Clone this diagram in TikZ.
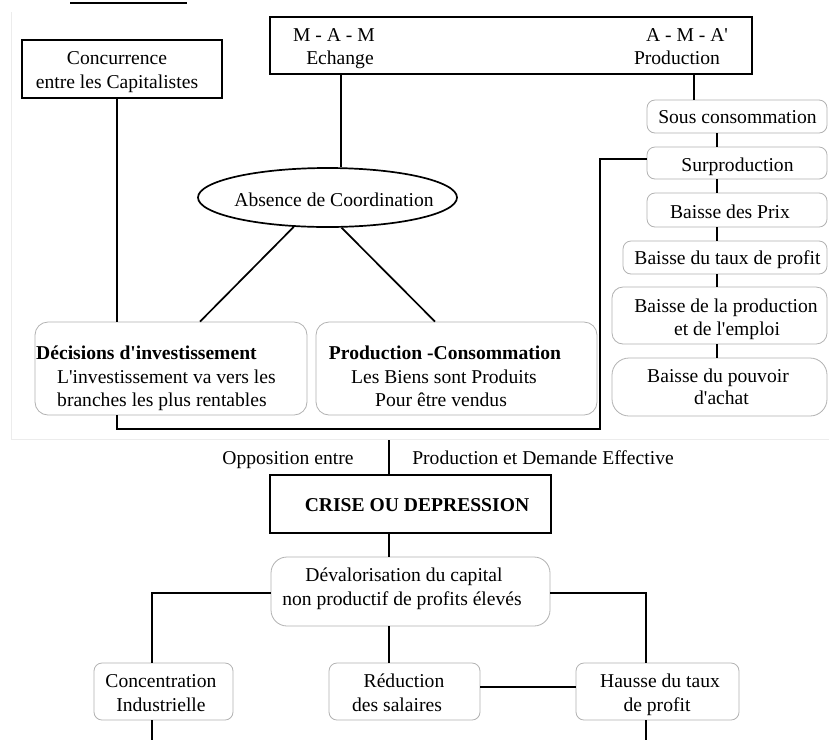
\documentclass[tikz,border=0pt]{standalone}
\usepackage{fontspec}
\setmainfont{Liberation Serif}
\usetikzlibrary{shapes.geometric}
\newcommand{\apo}{\textquotesingle}
\begin{document}
\begin{tikzpicture}[x=1pt,y=-1pt,
  txt/.style={anchor=base,inner sep=0pt,font=\fontsize{19.6}{24}\selectfont},
  txtb/.style={anchor=base,inner sep=0pt,font=\fontsize{19.6}{24}\selectfont\bfseries},
  sqbox/.style={draw=black,line width=1.9pt,rectangle,inner sep=0pt},
  rbox/.style={draw=gray!60,line width=0.8pt,rounded corners=8pt,rectangle,inner sep=0pt},
  conn/.style={draw=black,line width=1.7pt},
  faint/.style={draw=gray!15,line width=1pt}]
\useasboundingbox (0,0) rectangle (829,740);
\fill[white] (0,0) rectangle (829,740);
% title underline (title itself is cut off)
\draw[line width=2.2pt] (70,3) -- (187,3);
% faint frame of the upper part
\draw[faint] (11,12) -- (11,439) -- (829,439);

% ---- boxes
\node[sqbox,minimum width=482pt,minimum height=57pt] (top) at (511,45.5) {};
\node[sqbox,minimum width=200pt,minimum height=58pt] (conc) at (122,69) {};
\node[ellipse,draw=black,line width=1.7pt,minimum width=259pt,minimum height=59pt,inner sep=0pt] (ell) at (327.5,197.5) {};
\node[rbox,rounded corners=13pt,minimum width=272pt,minimum height=93pt] (dec) at (171,368.5) {};
\node[rbox,rounded corners=13pt,minimum width=281pt,minimum height=93pt] (prod) at (456.5,368.5) {};
\node[rbox,minimum width=180pt,minimum height=33pt] (sous) at (737,116.5) {};
\node[rbox,minimum width=180pt,minimum height=32pt] (surp) at (737,163) {};
\node[rbox,minimum width=180pt,minimum height=34pt] (prix) at (737,210) {};
\node[rbox,minimum width=204pt,minimum height=33pt] (taux) at (725,257.5) {};
\node[rbox,rounded corners=11pt,minimum width=215pt,minimum height=57pt] (bprod) at (719.5,315.5) {};
\node[rbox,rounded corners=17pt,minimum width=215pt,minimum height=58pt] (pouv) at (719.5,387) {};
\node[sqbox,minimum width=281pt,minimum height=58pt] (crise) at (410.5,504) {};
\node[rbox,rounded corners=16pt,minimum width=279pt,minimum height=69pt] (deval) at (410.5,591.5) {};
\node[rbox,minimum width=139pt,minimum height=57pt] (concen) at (163.5,691.5) {};
\node[rbox,minimum width=151pt,minimum height=57pt] (reduc) at (404.5,691.5) {};
\node[rbox,minimum width=163pt,minimum height=57pt] (hausse) at (657.5,691.5) {};

% ---- texts
\node[txt] (t1) at (334,41.5) {M - A - M};
\node[txt] (t2) at (340,64.5) {Echange};
\node[txt] (t3) at (687,41.5) {A - M - A\apo};
\node[txt] (t4) at (677,64.5) {Production};
\node[txt] (t5) at (117,64.5) {Concurrence};
\node[txt] (t6) at (117,88.5) {entre les Capitalistes};
\node[txt] (t7) at (334,206.5) {Absence de Coordination};
\node[txt] (t8) at (737.5,123.5) {Sous consommation};
\node[txt] (t9) at (737.5,171.5) {Surproduction};
\node[txt] (t10) at (730,218.5) {Baisse des Prix};
\node[txt] (t11) at (727.5,264.5) {Baisse du taux de profit};
\node[txt] (t12) at (726,312.5) {Baisse de la production};
\node[txt] (t13) at (727,335.5) {et de l\apo emploi};
\node[txt] (t14) at (718,382.5) {Baisse du pouvoir};
\node[txt] (t15) at (721.5,404.5) {d\apo achat};
\node[txtb,anchor=base west] (t16) at (36,359.5) {Décisions d\apo investissement};
\node[txt,anchor=base west] (t17) at (57,383.5) {L\apo investissement va vers les};
\node[txt,anchor=base west] (t18) at (57,406.5) {branches les plus rentables};
\node[txtb] (t19) at (445,359.5) {Production -Consommation};
\node[txt] (t20) at (444,383.5) {Les Biens sont Produits};
\node[txt] (t21) at (441,406.5) {Pour être vendus};
\node[txt] (t22) at (288,464.5) {Opposition entre};
\node[txt] (t23) at (543,464.5) {Production et Demande Effective};
\node[txtb] (t24) at (417,511.5) {CRISE OU DEPRESSION};
\node[txt] (t25) at (404,581.5) {Dévalorisation du capital};
\node[txt] (t26) at (402,605.5) {non productif de profits élevés};
\node[txt] (t27) at (161,687.5) {Concentration};
\node[txt] (t28) at (161,711.5) {Industrielle};
\node[txt] (t29) at (404,687.5) {Réduction};
\node[txt] (t30) at (397,711.5) {des salaires};
\node[txt] (t31) at (660,687.5) {Hausse du taux};
\node[txt] (t32) at (657,711.5) {de profit};

% ---- helper coordinates
\coordinate (xl) at (117,0);
\coordinate (xd) at (200,0);
\coordinate (xp) at (435,0);
\coordinate (xr) at (694,0);
\coordinate (xc) at (717,0);
\coordinate (ys) at (0,159);
\coordinate (kr) at (600,429);
\coordinate (kl) at (117,429);
\coordinate (xm) at (389,0);
\coordinate (om) at (389,440);
\coordinate (yd) at (0,593);
\coordinate (xcl) at (152,0);
\coordinate (xcr) at (646,0);
\coordinate (yr) at (0,687);
\coordinate (bl) at (152,740);
\coordinate (br) at (646,740);

% ---- connectors
\draw[conn] (conc.south -| xl) -- (dec.north -| xl);
\draw[conn] (top.south -| ell.66) -- (ell.66);
\draw[conn] (ell.221) -- (dec.north -| xd);
\draw[conn] (ell.295) -- (prod.north -| xp);
\draw[conn] (top.south -| xr) -- (sous.north -| xr);
\draw[conn] (sous.south -| xc) -- (surp.north -| xc);
\draw[conn] (surp.south -| xc) -- (prix.north -| xc);
\draw[conn] (prix.south -| xc) -- (taux.north -| xc);
\draw[conn] (taux.south -| xc) -- (bprod.north -| xc);
\draw[conn] (bprod.south -| xc) -- (pouv.north -| xc);
\draw[conn] (surp.west |- ys) -| (kr) -- (kl) -- (dec.south -| kl);
\draw[conn] (om) -- (crise.north -| om);
\draw[conn] (crise.south -| xm) -- (deval.north -| xm);
\draw[conn] (deval.west |- yd) -| (concen.north -| xcl);
\draw[conn] (deval.east |- yd) -| (hausse.north -| xcr);
\draw[conn] (deval.south -| xm) -- (reduc.north -| xm);
\draw[conn,line width=2.6pt] (reduc.east |- yr) -- (hausse.west |- yr);
\draw[conn] (concen.south -| xcl) -- (bl);
\draw[conn] (hausse.south -| xcr) -- (br);
\end{tikzpicture}
\end{document}
